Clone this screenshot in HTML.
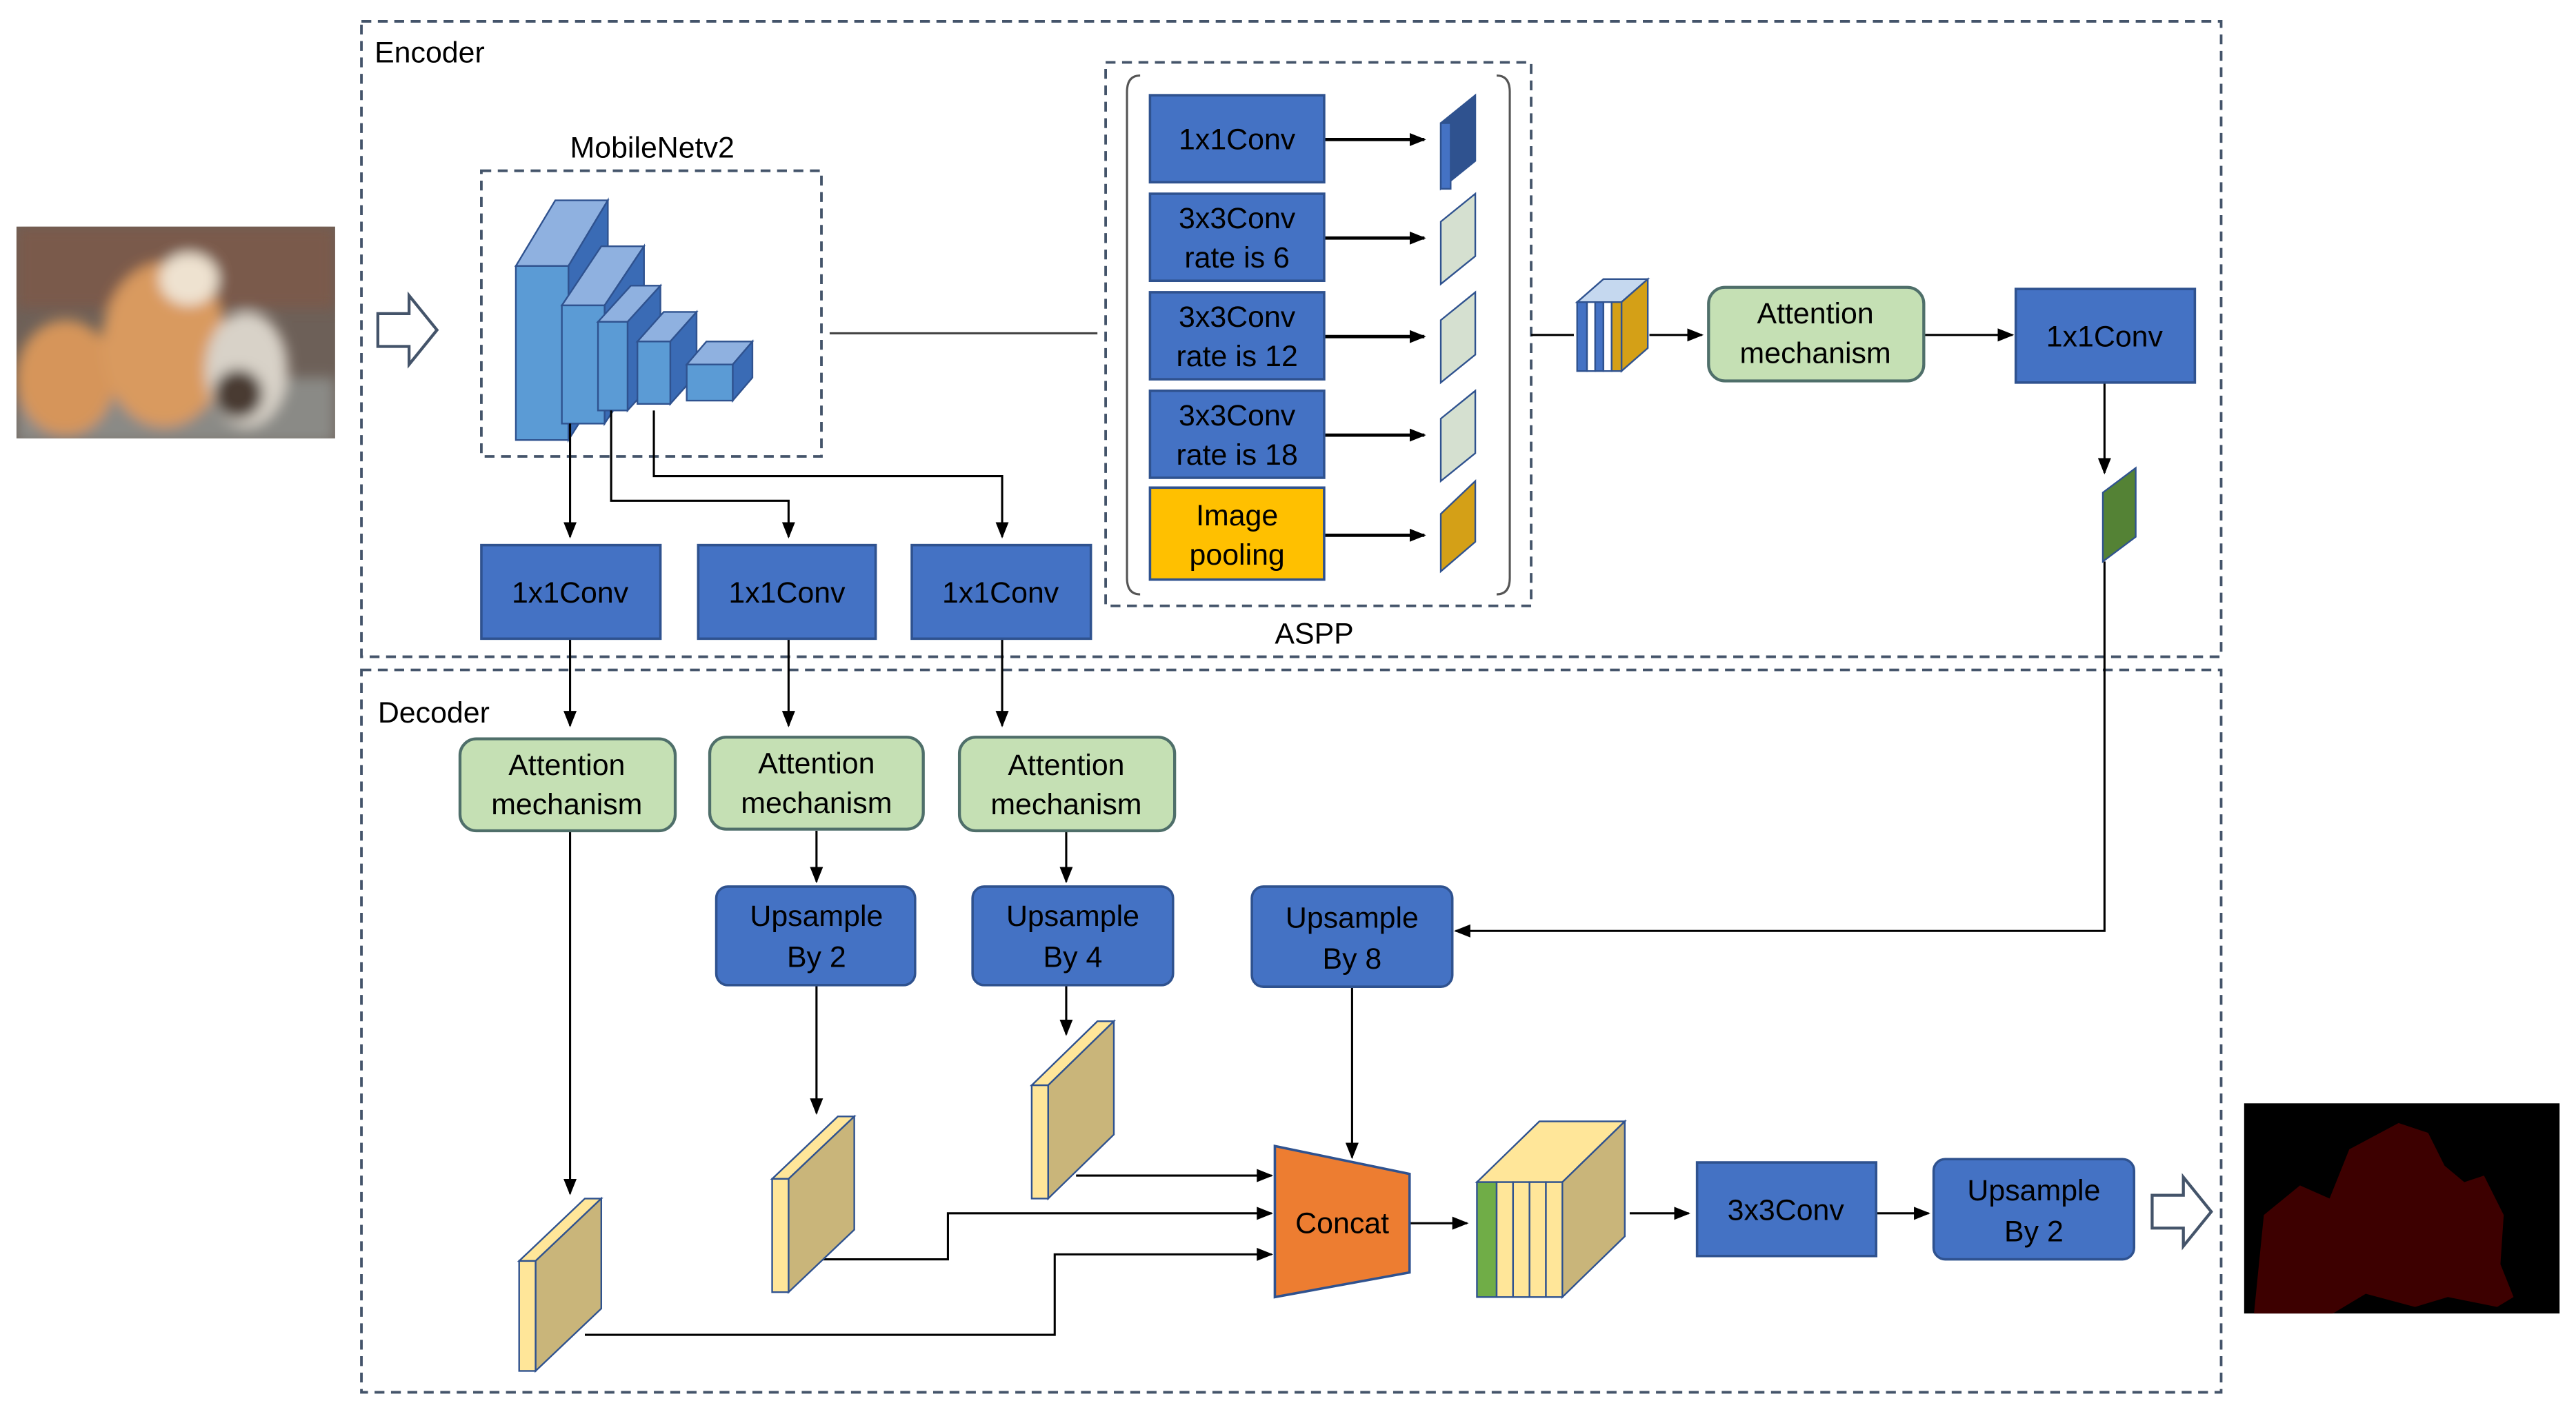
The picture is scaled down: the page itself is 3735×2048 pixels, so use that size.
<!DOCTYPE html>
<html><head><meta charset="utf-8"><style>
html,body{margin:0;padding:0;background:#fff;}
svg{display:block;}
text{font-family:"Liberation Sans",sans-serif;}
</style></head><body>
<svg width="3735" height="2048" viewBox="0 0 1568 860" preserveAspectRatio="none" xmlns="http://www.w3.org/2000/svg">
<defs>
<marker id="a" markerWidth="10" markerHeight="10" refX="9" refY="5" orient="auto" markerUnits="userSpaceOnUse"><path d="M0,1 L10,5 L0,9 z" fill="#000"/></marker>
<filter id="bl"><feGaussianBlur stdDeviation="4"/></filter>
</defs>
<rect width="1568" height="860" fill="#fff"/>
<!-- dashed boxes -->
<g fill="none" stroke="#44546a" stroke-width="1.6" stroke-dasharray="6,4">
<rect x="220" y="13" width="1132" height="387"/>
<rect x="220" y="408" width="1132" height="440"/>
<rect x="293" y="104" width="207" height="174"/>
<rect x="673" y="38" width="259" height="331"/>
</g>
<text x="228" y="38" font-size="18">Encoder</text>
<text x="230" y="440" font-size="18">Decoder</text>
<text x="397" y="96" font-size="18" text-anchor="middle">MobileNetv2</text>
<text x="800" y="392" font-size="18" text-anchor="middle">ASPP</text>

<!-- input image -->
<g>
<clipPath id="c1"><rect x="10" y="138" width="194" height="129"/></clipPath>
<g clip-path="url(#c1)">
<rect x="10" y="138" width="194" height="129" fill="#6d6058"/>
<g filter="url(#bl)">
<rect x="10" y="138" width="194" height="50" fill="#7a5a4c"/>
<rect x="10" y="230" width="194" height="40" fill="#8a8a86"/>
<ellipse cx="40" cy="230" rx="30" ry="35" fill="#d6955a"/>
<ellipse cx="100" cy="210" rx="38" ry="50" fill="#d99a5e"/>
<ellipse cx="115" cy="170" rx="18" ry="16" fill="#eee2d0"/>
<ellipse cx="150" cy="225" rx="25" ry="35" fill="#d8d2c8"/>
<ellipse cx="145" cy="240" rx="15" ry="15" fill="#4a3a30"/>
</g></g>
</g>
<!-- hollow arrows -->
<path d="M230,191 L249,191 L249,180 L266,201 L249,222 L249,211 L230,211 z" fill="#fff" stroke="#44546a" stroke-width="1.8"/>
<path d="M1310,728 L1329,728 L1329,717 L1346,738 L1329,759 L1329,748 L1310,748 z" fill="#fff" stroke="#44546a" stroke-width="1.8"/>

<!-- MobileNet blocks -->
<g stroke="#2f528f" stroke-width="1">
<polygon points="314,162 338,122 370,122 346,162" fill="#8fb1e0"/>
<polygon points="346,162 370,122 370,230 346,268" fill="#3a6bb5"/>
<rect x="314" y="162" width="32" height="106" fill="#5b9bd5"/>
<polygon points="342,186 366,150 392,150 368,186" fill="#8fb1e0"/>
<polygon points="368,186 392,150 392,222 368,258" fill="#3a6bb5"/>
<rect x="342" y="186" width="26" height="72" fill="#5b9bd5"/>
<polygon points="364,196 384,174 402,174 382,196" fill="#8fb1e0"/>
<polygon points="382,196 402,174 402,228 382,250" fill="#3a6bb5"/>
<rect x="364" y="196" width="18" height="54" fill="#5b9bd5"/>
<polygon points="388,208 404,190 424,190 408,208" fill="#8fb1e0"/>
<polygon points="408,208 424,190 424,228 408,246" fill="#3a6bb5"/>
<rect x="388" y="208" width="20" height="38" fill="#5b9bd5"/>
<polygon points="418,222 430,208 458,208 446,222" fill="#8fb1e0"/>
<polygon points="446,222 458,208 458,230 446,244" fill="#3a6bb5"/>
<rect x="418" y="222" width="28" height="22" fill="#5b9bd5"/>
</g>

<!-- connectors -->
<g stroke="#000" stroke-width="1.3" fill="none">
<line x1="505" y1="203" x2="668" y2="203" stroke="#444"/>
<line x1="347" y1="258" x2="347" y2="327" marker-end="url(#a)"/>
<polyline points="372,250 372,305 480,305 480,327" marker-end="url(#a)"/>
<polyline points="398,250 398,290 610,290 610,327" marker-end="url(#a)"/>
<line x1="347" y1="389" x2="347" y2="442" marker-end="url(#a)"/>
<line x1="480" y1="389" x2="480" y2="442" marker-end="url(#a)"/>
<line x1="610" y1="389" x2="610" y2="442" marker-end="url(#a)"/>
<line x1="806" y1="85" x2="867" y2="85" stroke-width="2" marker-end="url(#a)"/>
<line x1="806" y1="145" x2="867" y2="145" stroke-width="2" marker-end="url(#a)"/>
<line x1="806" y1="205" x2="867" y2="205" stroke-width="2" marker-end="url(#a)"/>
<line x1="806" y1="265" x2="867" y2="265" stroke-width="2" marker-end="url(#a)"/>
<line x1="806" y1="326" x2="867" y2="326" stroke-width="2" marker-end="url(#a)"/>
<line x1="932" y1="204" x2="958" y2="204"/>
<line x1="1004" y1="204" x2="1036" y2="204" marker-end="url(#a)"/>
<line x1="1171" y1="204" x2="1225" y2="204" marker-end="url(#a)"/>
<line x1="1281" y1="233" x2="1281" y2="288" marker-end="url(#a)"/>
<polyline points="1281,342 1281,567 886,567" marker-end="url(#a)"/>
<line x1="497" y1="506" x2="497" y2="537" marker-end="url(#a)"/>
<line x1="649" y1="506" x2="649" y2="537" marker-end="url(#a)"/>
<line x1="347" y1="506" x2="347" y2="727" marker-end="url(#a)"/>
<line x1="497" y1="600" x2="497" y2="678" marker-end="url(#a)"/>
<line x1="649" y1="600" x2="649" y2="630" marker-end="url(#a)"/>
<line x1="823" y1="601" x2="823" y2="705" marker-end="url(#a)"/>
<line x1="655" y1="716" x2="774" y2="716" marker-end="url(#a)"/>
<polyline points="497,767 577,767 577,739 774,739" marker-end="url(#a)"/>
<polyline points="356,813 642,813 642,764 774,764" marker-end="url(#a)"/>
<line x1="858" y1="745" x2="893" y2="745" marker-end="url(#a)"/>
<line x1="992" y1="739" x2="1028" y2="739" marker-end="url(#a)"/>
<line x1="1142" y1="739" x2="1174" y2="739" marker-end="url(#a)"/>
</g>

<!-- ASPP brackets -->
<g fill="none" stroke="#555" stroke-width="1.3">
<path d="M694,46 Q686,46 686,56 L686,352 Q686,362 694,362"/>
<path d="M911,46 Q919,46 919,56 L919,352 Q919,362 911,362"/>
</g>

<!-- blue boxes -->
<g fill="#4472c4" stroke="#2f528f" stroke-width="1.5">
<rect x="700" y="58" width="106" height="53"/>
<rect x="700" y="118" width="106" height="53"/>
<rect x="700" y="178" width="106" height="53"/>
<rect x="700" y="238" width="106" height="53"/>
<rect x="1227" y="176" width="109" height="57"/>
<rect x="293" y="332" width="109" height="57"/>
<rect x="425" y="332" width="108" height="57"/>
<rect x="555" y="332" width="109" height="57"/>
<rect x="1033" y="708" width="109" height="57"/>
<rect x="436" y="540" width="121" height="60" rx="7"/>
<rect x="592" y="540" width="122" height="60" rx="7"/>
<rect x="762" y="540" width="122" height="61" rx="7"/>
<rect x="1177" y="706" width="122" height="61" rx="7"/>
</g>
<rect x="700" y="297" width="106" height="56" fill="#ffc000" stroke="#2f528f" stroke-width="1.5"/>
<g fill="#c5e0b4" stroke="#4f6f6a" stroke-width="1.8">
<rect x="1040" y="175" width="131" height="57" rx="10"/>
<rect x="280" y="450" width="131" height="56" rx="10"/>
<rect x="432" y="449" width="130" height="56" rx="10"/>
<rect x="584" y="449" width="131" height="57" rx="10"/>
</g>
<polygon points="776,698 858,715 858,775 776,790" fill="#ed7d31" stroke="#2f528f" stroke-width="1.5"/>

<!-- texts -->
<g font-size="18" text-anchor="middle" fill="#000">
<text x="753" y="91">1x1Conv</text>
<text x="753" y="139">3x3Conv</text><text x="753" y="163">rate is 6</text>
<text x="753" y="199">3x3Conv</text><text x="753" y="223">rate is 12</text>
<text x="753" y="259">3x3Conv</text><text x="753" y="283">rate is 18</text>
<text x="753" y="320">Image</text><text x="753" y="344">pooling</text>
<text x="1281" y="211">1x1Conv</text>
<text x="347" y="367">1x1Conv</text>
<text x="479" y="367">1x1Conv</text>
<text x="609" y="367">1x1Conv</text>
<text x="1087" y="743">3x3Conv</text>
<text x="1105" y="197">Attention</text><text x="1105" y="221">mechanism</text>
<text x="345" y="472">Attention</text><text x="345" y="496">mechanism</text>
<text x="497" y="471">Attention</text><text x="497" y="495">mechanism</text>
<text x="649" y="472">Attention</text><text x="649" y="496">mechanism</text>
<text x="497" y="564">Upsample</text><text x="497" y="589">By 2</text>
<text x="653" y="564">Upsample</text><text x="653" y="589">By 4</text>
<text x="823" y="565">Upsample</text><text x="823" y="590">By 8</text>
<text x="1238" y="731">Upsample</text><text x="1238" y="756">By 2</text>
<text x="817" y="751">Concat</text>
</g>

<!-- ASPP output slabs -->
<g stroke="#2f528f" stroke-width="1">
<polygon points="877,75 898,58 898,98 877,115" fill="#2f528f"/><rect x="877" y="75" width="6" height="40" fill="#4472c4"/>
<polygon points="877,135 898,118 898,156 877,173" fill="#d5e0d0"/>
<polygon points="877,195 898,178 898,216 877,233" fill="#d5e0d0"/>
<polygon points="877,255 898,238 898,276 877,293" fill="#d5e0d0"/>
<polygon points="877,313 898,293 898,330 877,348" fill="#d4a017"/>
</g>
<!-- concat stack top-right -->
<g stroke="#2f528f" stroke-width="1">
<polygon points="960,184 976,170 1003,170 987,184" fill="#c5d8ef"/>
<polygon points="987,184 1003,170 1003,212 987,226" fill="#d4a017"/>
<rect x="960" y="184" width="6" height="42" fill="#4472c4"/>
<rect x="966" y="184" width="5" height="42" fill="#fff"/>
<rect x="971" y="184" width="5" height="42" fill="#4472c4"/>
<rect x="976" y="184" width="5" height="42" fill="#fff"/>
<rect x="981" y="184" width="6" height="42" fill="#d4a017"/>
</g>
<!-- green slab -->
<polygon points="1280,300 1300,285 1300,327 1280,342" fill="#548235" stroke="#2f528f"/>

<!-- decoder slabs -->
<g stroke="#2f528f" stroke-width="1">
<polygon points="316,768 356,730 366,730 326,768" fill="#ffe699"/>
<polygon points="326,768 366,730 366,797 326,835" fill="#c9b57a"/>
<rect x="316" y="768" width="10" height="67" fill="#ffe699"/>
<polygon points="470,718 510,680 520,680 480,718" fill="#ffe699"/>
<polygon points="480,718 520,680 520,749 480,787" fill="#c9b57a"/>
<rect x="470" y="718" width="10" height="69" fill="#ffe699"/>
<polygon points="628,661 668,622 678,622 638,661" fill="#ffe699"/>
<polygon points="638,661 678,622 678,691 638,730" fill="#c9b57a"/>
<rect x="628" y="661" width="10" height="69" fill="#ffe699"/>
</g>
<!-- decoder concat stack -->
<g stroke="#2f528f" stroke-width="1">
<polygon points="899,720 937,683 989,683 951,720" fill="#ffe699"/>
<polygon points="951,720 989,683 989,753 951,790" fill="#c9b57a"/>
<rect x="899" y="720" width="12" height="70" fill="#70ad47"/>
<rect x="911" y="720" width="10" height="70" fill="#ffe699"/>
<rect x="921" y="720" width="10" height="70" fill="#ffe699"/>
<rect x="931" y="720" width="10" height="70" fill="#ffe699"/>
<rect x="941" y="720" width="10" height="70" fill="#ffe699"/>
</g>

<!-- output image -->
<rect x="1366" y="672" width="192" height="128" fill="#000"/>
<path d="M1372,800 L1378,740 L1400,722 L1418,730 L1430,700 L1460,684 L1478,690 L1488,710 L1500,720 L1512,716 L1524,740 L1522,770 L1530,790 L1520,796 L1490,790 L1470,796 L1440,788 L1420,800 z" fill="#3d0000"/>
</svg>
</body></html>
